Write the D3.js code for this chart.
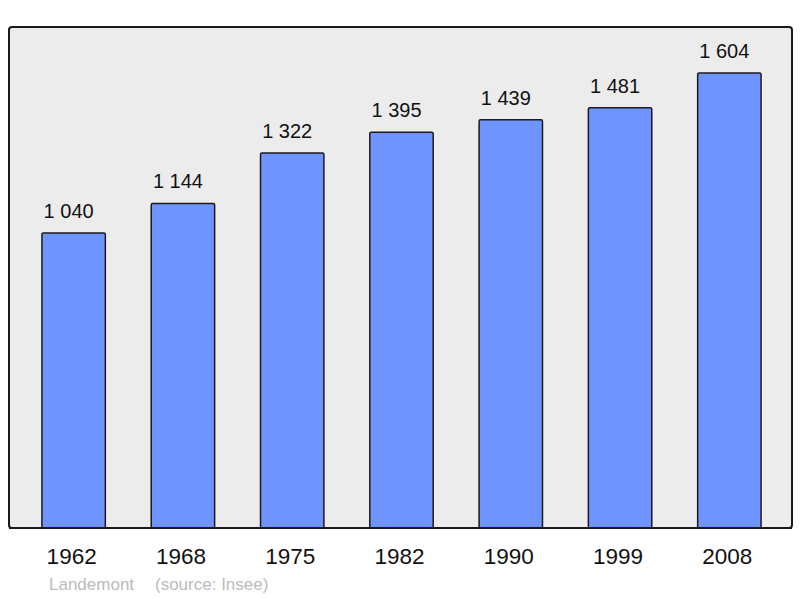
<!DOCTYPE html>
<html>
<head>
<meta charset="utf-8">
<script src="https://cdn.jsdelivr.net/npm/d3@7"></script>
<style>
  body { margin: 0; background: #fff; }
  svg { display: block; font-family: 'Liberation Sans', Arial, sans-serif; }
</style>
</head>
<body>
<svg></svg>
<script>
// Chart data
var years = ['1962', '1968', '1975', '1982', '1990', '1999', '2008'];
var population = [1040, 1144, 1322, 1395, 1439, 1481, 1604];
var commune = 'Landemont';
var source = '(source: Insee)';

var width = 800;
var height = 598;
var frame = {left: 9, top: 27, right: 792, bottom: 528};

var svg = d3.select('svg')
  .attr('width', width)
  .attr('height', height);

// Frame background
svg.append('rect')
  .attr('x', frame.left)
  .attr('y', frame.top)
  .attr('width', frame.right - frame.left)
  .attr('height', frame.bottom - frame.top)
  .attr('rx', 3)
  .attr('fill', '#ececec')
  .attr('stroke', '#1a1a1a')
  .attr('stroke-width', 2);

var x = d3.scaleBand()
  .domain(years)
  .range([19, 784])
  .paddingInner(0.42)
  .paddingOuter(0.21);

var y = d3.scaleLinear()
  .domain([0, 1766])
  .range([frame.bottom, frame.top]);

var fmt = function (v) {
  return d3.format(',')(v).replace(/,/g, ' ');
};

var data = years.map(function (yr, i) {
  return {year: yr, value: population[i]};
});

// Bars
svg.selectAll('.bar')
  .data(data)
  .enter()
  .append('rect')
    .attr('class', 'bar')
    .attr('x', function (d) { return x(d.year); })
    .attr('y', function (d) { return y(d.value); })
    .attr('width', x.bandwidth())
    .attr('height', function (d) { return frame.bottom - y(d.value); })
    .attr('rx', 1.5)
    .attr('fill', '#7094ff')
    .attr('stroke', '#1a1a1a')
    .attr('stroke-width', 1.5);

// Value labels (sit a little left of the bar centre, like the original)
svg.selectAll('.value')
  .data(data)
  .enter()
  .append('text')
    .attr('class', 'value')
    .attr('x', function (d) { return x(d.year) + x.bandwidth() / 2 - 5; })
    .attr('y', function (d) { return y(d.value) - 15; })
    .attr('text-anchor', 'middle')
    .attr('font-size', 20)
    .attr('fill', '#111')
    .text(function (d) { return fmt(d.value); });

// Redraw bottom frame edge over the bars
svg.append('line')
  .attr('x1', frame.left)
  .attr('x2', frame.right)
  .attr('y1', frame.bottom)
  .attr('y2', frame.bottom)
  .attr('stroke', '#1a1a1a')
  .attr('stroke-width', 2);

// Year axis
var xAxis = d3.axisBottom(x).tickSize(0).tickPadding(0);
var axisG = svg.append('g')
  .attr('transform', 'translate(0,' + frame.bottom + ')')
  .call(xAxis);
axisG.select('.domain').remove();
axisG.selectAll('text')
  .attr('dy', null)
  .attr('x', -2)
  .attr('y', 36)
  .attr('font-size', 22.5)
  .attr('font-family', "'Liberation Sans', Arial, sans-serif")
  .attr('fill', '#111');

// Footer
svg.append('text')
  .attr('x', 49)
  .attr('y', 590)
  .attr('font-size', 17)
  .attr('fill', '#bbbbbb')
  .text(commune);

svg.append('text')
  .attr('x', 155)
  .attr('y', 590)
  .attr('font-size', 17)
  .attr('fill', '#bbbbbb')
  .text(source);
</script>
</body>
</html>
